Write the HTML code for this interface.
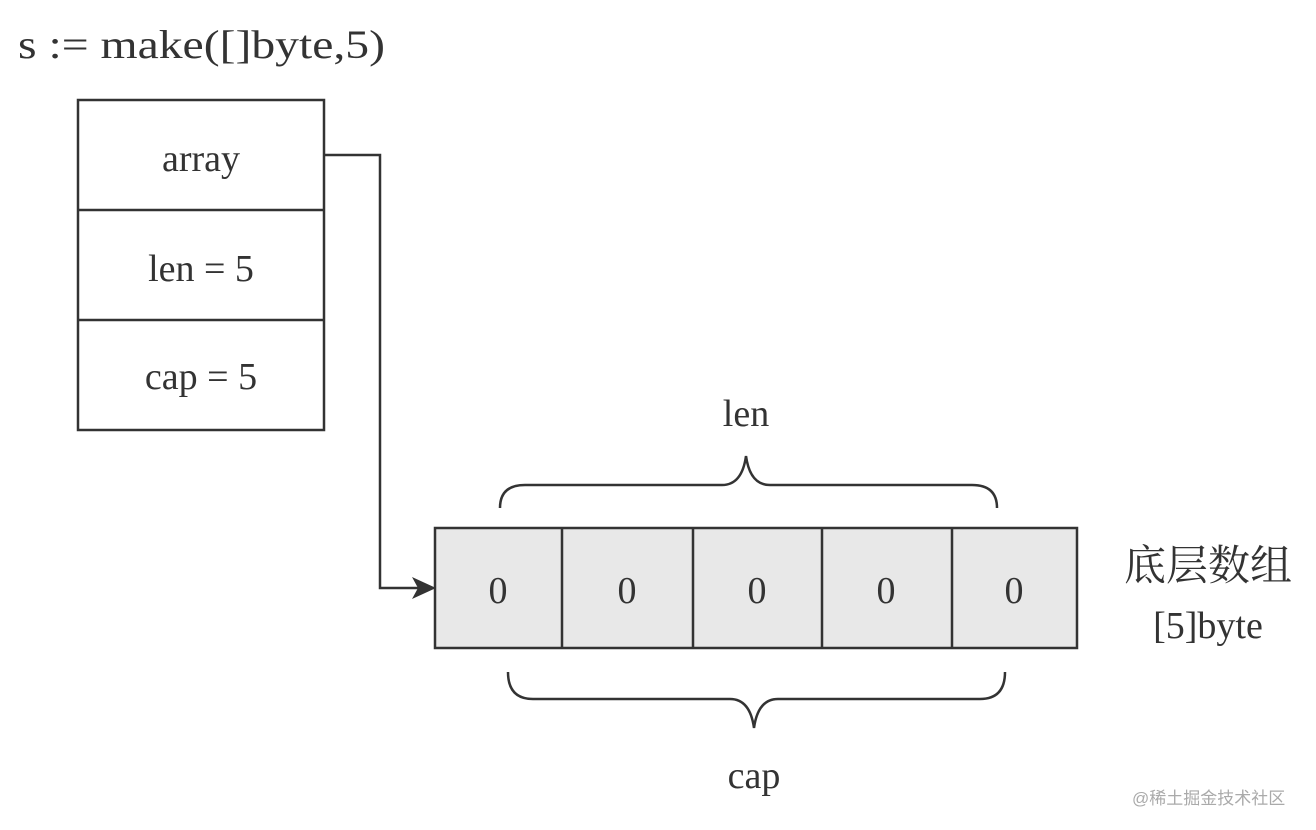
<!DOCTYPE html>
<html><head><meta charset="utf-8"><style>
html,body{margin:0;padding:0;background:#fff;}
svg{display:block;}
text{font-family:"Liberation Serif","Noto Serif CJK SC",serif;fill:#333;}
</style></head><body>
<svg width="1316" height="830" viewBox="0 0 1316 830" xmlns="http://www.w3.org/2000/svg">
<text x="18" y="58" font-size="40" textLength="367" lengthAdjust="spacingAndGlyphs">s := make([]byte,5)</text>
<g fill="none" stroke="#333" stroke-width="2.5">
<rect x="78" y="100" width="246" height="330" fill="#fff"/>
<line x1="78" y1="210" x2="324" y2="210"/>
<line x1="78" y1="320" x2="324" y2="320"/>
<polyline points="324,155 380,155 380,588 420,588"/>
<rect x="435" y="528" width="642" height="120" fill="#e8e8e8"/>
<line x1="562" y1="528" x2="562" y2="648"/>
<line x1="693" y1="528" x2="693" y2="648"/>
<line x1="822" y1="528" x2="822" y2="648"/>
<line x1="952" y1="528" x2="952" y2="648"/>
<path d="M500,508 Q500,485 525,485 L722,485 Q742,485 746,456 Q750,485 770,485 L972,485 Q997,485 997,508"/>
<path d="M508,672 Q508,699 533,699 L730,699 Q750,699 754,728 Q758,699 778,699 L980,699 Q1005,699 1005,672"/>
</g>
<polygon points="436,588 412,577 418,588 412,599" fill="#333"/>
<g font-size="38" text-anchor="middle">
<text x="201" y="171">array</text>
<text x="201" y="281">len = 5</text>
<text x="201" y="389">cap = 5</text>
<text x="498" y="603">0</text>
<text x="627" y="603">0</text>
<text x="757" y="603">0</text>
<text x="886" y="603">0</text>
<text x="1014" y="603">0</text>
<text x="746" y="426">len</text>
<text x="754" y="788">cap</text>
<text x="1208" y="638">[5]byte</text>
</g>
<text x="1208" y="580" font-size="42" text-anchor="middle">底层数组</text>
<text x="1132" y="804" font-size="17" fill="#aaa" style="fill:#aaa;font-family:'Liberation Sans','Noto Sans CJK SC',sans-serif">@稀土掘金技术社区</text>
</svg>
</body></html>
